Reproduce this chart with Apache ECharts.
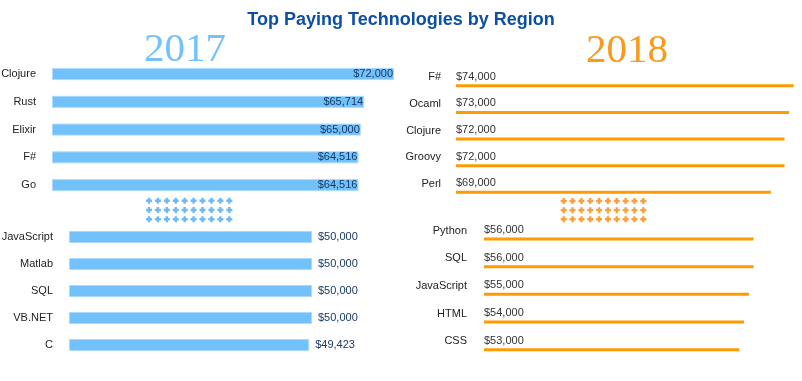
<!DOCTYPE html>
<html><head><meta charset="utf-8">
<script src="https://cdn.jsdelivr.net/npm/echarts@6/dist/echarts.min.js"></script>
<style>html,body{margin:0;padding:0;background:#fff}#c{width:802px;height:381px}</style>
</head><body><div id="c"></div>
<script>
var title = 'Top Paying Technologies by Region';
var year1 = '2017', year2 = '2018';
var topCats2017 = ['Clojure', 'Rust', 'Elixir', 'F#', 'Go'];
var topVals2017 = [72000, 65714, 65000, 64516, 64516];
var botCats2017 = ['JavaScript', 'Matlab', 'SQL', 'VB.NET', 'C'];
var botVals2017 = [50000, 50000, 50000, 50000, 49423];
var topCats2018 = ['F#', 'Ocaml', 'Clojure', 'Groovy', 'Perl'];
var topVals2018 = [74000, 73000, 72000, 72000, 69000];
var botCats2018 = ['Python', 'SQL', 'JavaScript', 'HTML', 'CSS'];
var botVals2018 = [56000, 56000, 55000, 54000, 53000];
var patternCols = [1, 2, 3, 4, 5, 6, 7, 8, 9, 10];
var patternRows = [1, 2, 3];

var BLUE = '#72c1fb', ORANGE = '#ff9a00';
var FONT = 'Liberation Sans';
var fmt = function (p) { return '$' + p.value.toLocaleString('en-US'); };
var plus = 'path://M1.8,0H4.2V1.8H6V4.2H4.2V6H1.8V4.2H0V1.8H1.8Z';

var patternData = [];
patternRows.forEach(function (r) { patternCols.forEach(function (c) { patternData.push([c, r]); }); });

function catAxis(gi, cats, margin, raised) {
  var lab = { margin: margin, interval: 0, hideOverlap: false, color: '#222', fontSize: 11, fontFamily: FONT };
  if (raised) {
    lab.formatter = function (v) { return '{a|' + v + '}\n{b| }'; };
    lab.rich = {
      a: { fontSize: 11, fontFamily: FONT, color: '#222', height: 12, lineHeight: 12, align: 'right' },
      b: { fontSize: 11, height: 17, lineHeight: 17 }
    };
  }
  return {
    type: 'category', gridIndex: gi, data: cats, inverse: true,
    axisLine: { show: false }, axisTick: { show: false }, axisLabel: lab
  };
}
function valAxis(gi, max) {
  return { type: 'value', gridIndex: gi, min: 0, max: max, show: false, splitLine: { show: false } };
}
function g(l, t, w, h) {
  return { left: l, top: t, width: w, height: h, containLabel: false, outerBoundsMode: 'none' };
}

var option = {
  animation: false,
  backgroundColor: '#fff',
  title: {
    text: title, left: 'center', top: 6,
    textStyle: { fontFamily: FONT, fontSize: 18, fontWeight: 'bold', color: '#0d4ea6' }
  },
  graphic: [
    { type: 'text', left: 144, top: 30, style: { text: year1, font: '41px "Liberation Serif"', fill: '#74c2fc' } },
    { type: 'text', left: 586, top: 31, style: { text: year2, font: '41px "Liberation Serif"', fill: '#f99a1c' } }
  ],
  grid: [
    g(52, 60.2, 342, 138.8),
    g(69, 223.5, 243, 135),
    g(456, 72.4, 337.7, 133.3),
    g(484, 225.2, 269.7, 138.3),
    g(149, 200.7, 80.3, 18.6),
    g(563.7, 201, 79.6, 18.3)
  ],
  xAxis: [
    valAxis(0, 72000), valAxis(1, 50000), valAxis(2, 74000), valAxis(3, 56000),
    { type: 'value', gridIndex: 4, min: 1, max: 10, show: false },
    { type: 'value', gridIndex: 5, min: 1, max: 10, show: false }
  ],
  yAxis: [
    catAxis(0, topCats2017, 16, false),
    catAxis(1, botCats2017, 16, false),
    catAxis(2, topCats2018, 15, true),
    catAxis(3, botCats2018, 17, true),
    { type: 'value', gridIndex: 4, min: 1, max: 3, inverse: true, show: false },
    { type: 'value', gridIndex: 5, min: 1, max: 3, inverse: true, show: false }
  ],
  series: [
    {
      type: 'bar', xAxisIndex: 0, yAxisIndex: 0, data: topVals2017, barWidth: 12,
      itemStyle: { color: BLUE, borderColor: '#a9dafd', borderWidth: 1 },
      label: { show: true, position: 'insideRight', distance: 1, formatter: fmt, color: '#173a68', fontSize: 11, fontFamily: FONT }
    },
    {
      type: 'bar', xAxisIndex: 1, yAxisIndex: 1, data: botVals2017, barWidth: 12,
      itemStyle: { color: BLUE, borderColor: '#a9dafd', borderWidth: 1 },
      label: { show: true, position: 'right', distance: 6, formatter: fmt, color: '#173a68', fontSize: 11, fontFamily: FONT }
    },
    {
      type: 'bar', xAxisIndex: 2, yAxisIndex: 2, data: topVals2018, barWidth: 3,
      itemStyle: { color: ORANGE },
      label: { show: true, position: [0, -13], formatter: fmt, color: '#333', fontSize: 11, fontFamily: FONT }
    },
    {
      type: 'bar', xAxisIndex: 3, yAxisIndex: 3, data: botVals2018, barWidth: 3,
      itemStyle: { color: ORANGE },
      label: { show: true, position: [0, -13], formatter: fmt, color: '#333', fontSize: 11, fontFamily: FONT }
    },
    {
      type: 'scatter', xAxisIndex: 4, yAxisIndex: 4, data: patternData,
      symbol: plus, symbolSize: 6, itemStyle: { color: '#4aa8f5' }
    },
    {
      type: 'scatter', xAxisIndex: 5, yAxisIndex: 5, data: patternData,
      symbol: plus, symbolSize: 6, itemStyle: { color: '#f98a0c' }
    }
  ]
};
var chart = echarts.init(document.getElementById('c'), null, { renderer: 'canvas' });
chart.setOption(option);
</script></body></html>
